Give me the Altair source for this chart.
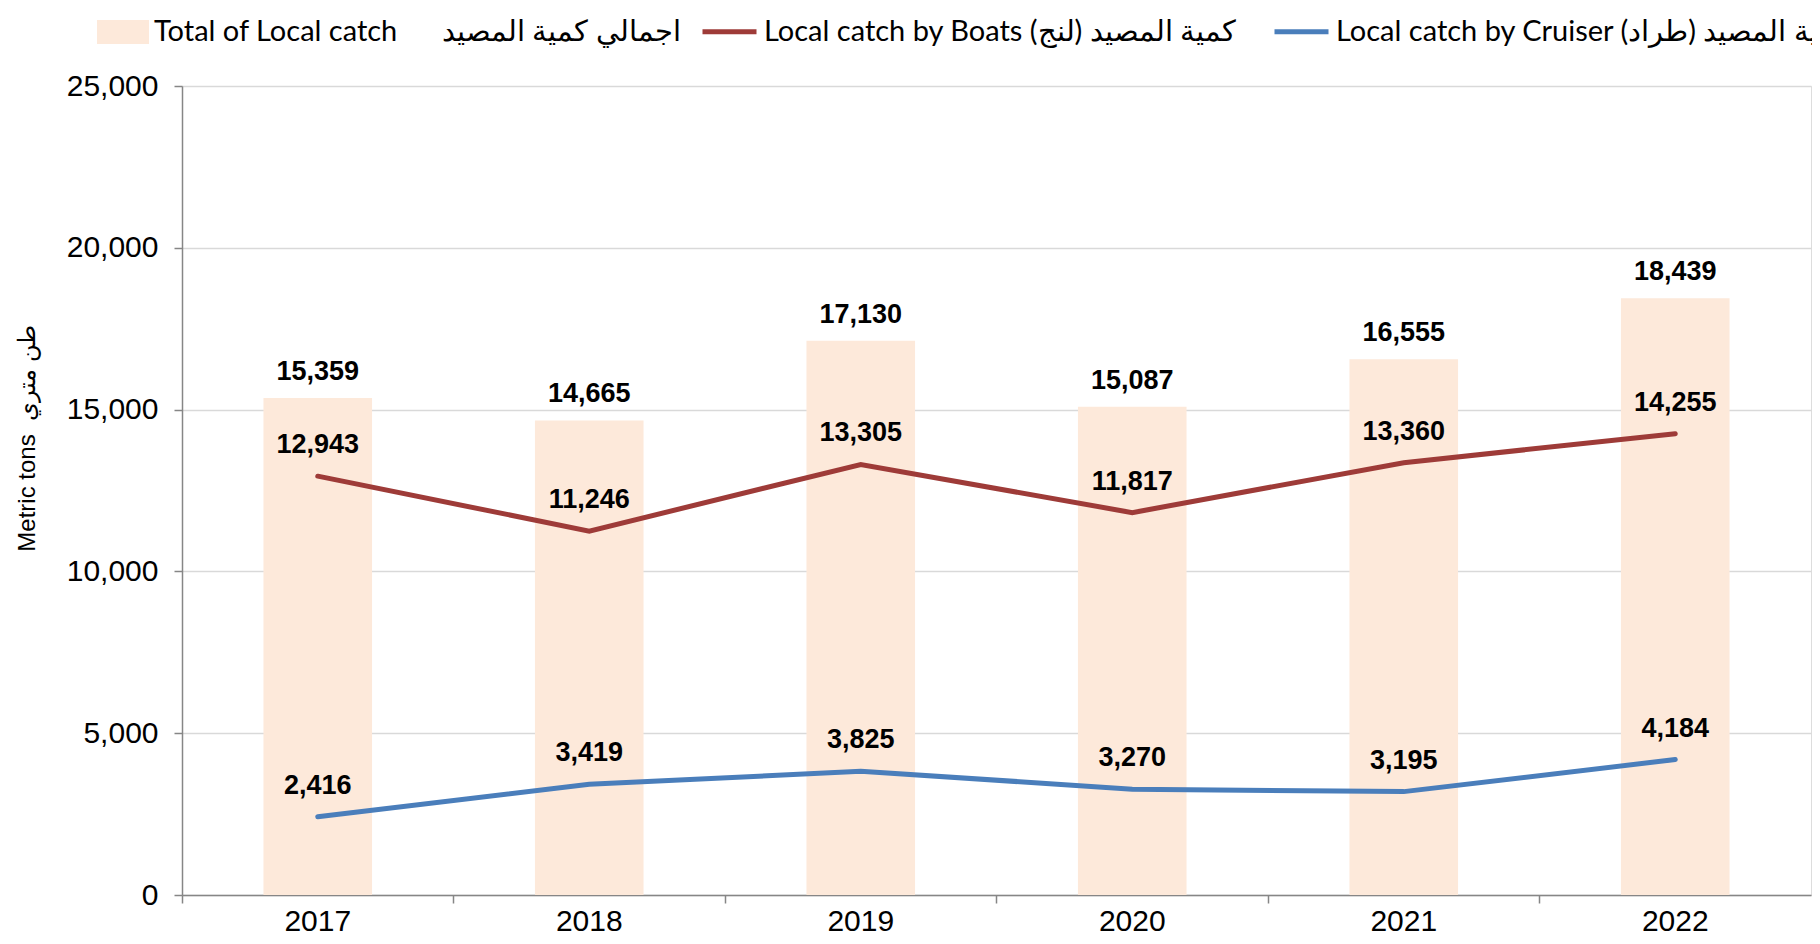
import altair as alt
import pandas as pd

years = ["2017", "2018", "2019", "2020", "2021", "2022"]
total = [15359, 14665, 17130, 15087, 16555, 18439]
boats = [12943, 11246, 13305, 11817, 13360, 14255]
cruiser = [2416, 3419, 3825, 3270, 3195, 4184]

NB = "\u00a0"
lab_total = "Total of Local catch" + NB * 6 + "اجمالي كمية المصيد"
lab_boats = "Local catch by Boats " + "كمية المصيد (لنج)" + "\u200f"
lab_cruiser = "Local catch by Cruiser " + "كمية المصيد (طراد)" + "\u200f"

bar_df = pd.DataFrame({"year": years, "value": total, "series": lab_total})
line_df = pd.DataFrame({
    "year": years * 2,
    "value": boats + cruiser,
    "series": [lab_boats] * 6 + [lab_cruiser] * 6,
})

x_enc = alt.X("year:O", title=None,
              scale=alt.Scale(paddingInner=0, paddingOuter=0),
              axis=alt.Axis(labelAngle=0, labelFont="Liberation Sans", labelFontSize=30,
                            labelColor="#000000", labelPadding=3, tickSize=8,
                            tickColor="#868686", domainColor="#868686", domainWidth=1.5,
                            tickWidth=1.5, bandPosition=0, grid=False))
y_scale = alt.Scale(domain=[0, 25000], nice=False, zero=True)
y_axis = alt.Axis(values=[0, 5000, 10000, 15000, 20000, 25000], format=",.0f",
                  labelFont="Liberation Sans", labelFontSize=30, labelColor="#000000",
                  labelPadding=16, tickSize=8, tickColor="#868686", tickWidth=1.5,
                  domainColor="#868686", domainWidth=1.5,
                  gridColor="#D9D9D9", gridWidth=1.5,
                  title="Metric tons" + NB * 2 + "طن متري",
                  titleFont="Liberation Sans", titleFontSize=24, titleFontWeight="normal",
                  titleColor="#000000", titleX=-155, titleY=352, titleAngle=-90,
                  titleAlign="center", titleBaseline="middle")

bars = alt.Chart(bar_df).mark_bar(width=alt.RelativeBandSize(0.4)).encode(
    x=x_enc,
    y=alt.Y("value:Q", scale=y_scale, axis=y_axis),
    fill=alt.Fill("series:N", scale=alt.Scale(domain=[lab_total], range=["#FDE9DA"]),
                  legend=alt.Legend(title=None, orient="none", legendX=-85, legendY=-80,
                                    symbolType="M-1,-0.46H1V0.46H-1Z", symbolSize=2704,
                                    symbolStrokeWidth=0, labelFont="Lato", labelFontSize=29,
                                    labelColor="#000000", labelLimit=600, labelOffset=5,
                                    padding=0, labelBaseline="middle")),
)

bar_text = alt.Chart(bar_df).mark_text(font="Liberation Sans", fontSize=27, fontWeight="bold",
                                       color="#000000", dy=-26, baseline="middle").encode(
    x="year:O", y=alt.Y("value:Q", scale=y_scale), text=alt.Text("value:Q", format=",.0f"))

lines = alt.Chart(line_df).mark_line(strokeWidth=5, strokeCap="round").encode(
    x="year:O",
    y=alt.Y("value:Q", scale=y_scale),
    stroke=alt.Stroke("series:N", sort=[lab_boats, lab_cruiser],
                      scale=alt.Scale(domain=[lab_boats, lab_cruiser], range=["#9E3B38", "#4A7EBB"]),
                      legend=alt.Legend(title=None, orient="none", legendX=518, legendY=-84,
                                        direction="horizontal", symbolType="stroke",
                                        symbolSize=2916, symbolStrokeWidth=5,
                                        labelFont="Lato", labelFontSize=29, labelColor="#000000",
                                        labelLimit=800, labelOffset=5, columnPadding=27,
                                        padding=0, labelBaseline="middle")),
    detail="series:N",
)

line_text = alt.Chart(line_df).mark_text(font="Liberation Sans", fontSize=27, fontWeight="bold",
                                         color="#000000", dy=-31, baseline="middle").encode(
    x="year:O", y=alt.Y("value:Q", scale=y_scale), text=alt.Text("value:Q", format=",.0f"),
    detail="series:N")

chart = alt.layer(bars, bar_text, lines, line_text).resolve_scale(
    fill="independent", stroke="independent"
).properties(
    width=1629, height=809,
    autosize=alt.AutoSizeParams(type="none"),
    padding={"left": 174, "top": 78, "right": 1, "bottom": 41},
).configure_view(stroke="#D9D9D9", strokeWidth=1.5).configure(background="white")

chart.save("out.html", embed_options={"renderer": "svg", "actions": False})
